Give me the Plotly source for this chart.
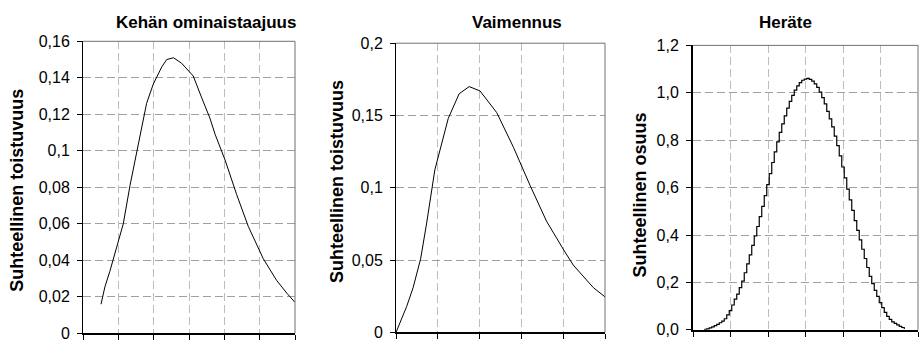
import plotly.graph_objects as go

# ---------------- data ----------------
# Panel 1: Kehän ominaistaajuus
p1_x = [0.51, 0.62, 0.76, 1.0, 1.14, 1.33, 1.61, 1.80, 1.99, 2.23, 2.37, 2.56, 2.79,
        3.12, 3.36, 3.59, 3.74, 4.02, 4.35, 4.68, 5.10, 5.48, 5.77, 6.0]
p1_y = [0.016, 0.0255, 0.034, 0.050, 0.060, 0.081, 0.107, 0.126, 0.1366, 0.146, 0.150,
        0.151, 0.148, 0.141, 0.129, 0.118, 0.109, 0.095, 0.076, 0.0585, 0.041, 0.029,
        0.022, 0.017]
p1_tickvals = [0, 0.02, 0.04, 0.06, 0.08, 0.1, 0.12, 0.14, 0.16]
p1_ticktext = ["0", "0,02", "0,04", "0,06", "0,08", "0,1", "0,12", "0,14", "0,16"]

# Panel 2: Vaimennus
p2_x = [0, 0.096, 0.256, 0.41, 0.59, 0.73, 0.93, 1.25, 1.51, 1.75, 2.01, 2.41, 2.81,
        3.21, 3.60, 4.0, 4.24, 4.72, 5.0]
p2_y = [0, 0.007, 0.018, 0.031, 0.051, 0.075, 0.1125, 0.148, 0.165, 0.170, 0.167,
        0.152, 0.128, 0.1015, 0.077, 0.0576, 0.0466, 0.031, 0.0246]
p2_tickvals = [0, 0.05, 0.1, 0.15, 0.2]
p2_ticktext = ["0", "0,05", "0,1", "0,15", "0,2"]

# Panel 3: Heräte (stepped distribution), first bin at 0.30, bin width 1/15
p3_start = 0.30
p3_bin = 1.0 / 15.0
p3_y = [0.002, 0.004, 0.008, 0.013, 0.018, 0.023, 0.030, 0.037, 0.047, 0.063,
        0.081, 0.105, 0.130, 0.151, 0.178, 0.206, 0.241, 0.278, 0.316, 0.356,
        0.396, 0.436, 0.478, 0.521, 0.566, 0.613, 0.659, 0.706, 0.751, 0.793,
        0.833, 0.869, 0.903, 0.935, 0.964, 0.989, 1.011, 1.029, 1.043, 1.053,
        1.058, 1.061, 1.057, 1.049, 1.038, 1.023, 1.003, 0.980, 0.953, 0.922,
        0.890, 0.856, 0.817, 0.777, 0.734, 0.687, 0.641, 0.594, 0.548, 0.504,
        0.461, 0.420, 0.380, 0.340, 0.301, 0.263, 0.226, 0.195, 0.167, 0.141,
        0.115, 0.094, 0.074, 0.057, 0.044, 0.034, 0.027, 0.021, 0.015, 0.010,
        0.004]
p3_x = [p3_start + i * p3_bin for i in range(len(p3_y))]
p3_tickvals = [0, 0.2, 0.4, 0.6, 0.8, 1.0, 1.2]
p3_ticktext = ["0,0", "0,2", "0,4", "0,6", "0,8", "1,0", "1,2"]

titles = ["Kehän ominaistaajuus", "Vaimennus", "Heräte"]
ytitles = ["Suhteellinen toistuvuus", "Suhteellinen toistuvuus", "Suhteellinen osuus"]

# ---------------- figure ----------------
W, H = 921, 350
FONT = "Liberation Sans, Arial, sans-serif"

fig = go.Figure()
fig.add_trace(go.Scatter(x=p1_x, y=p1_y, mode="lines", line=dict(color="black", width=1),
                         xaxis="x", yaxis="y", showlegend=False))
fig.add_trace(go.Scatter(x=p2_x, y=p2_y, mode="lines", line=dict(color="black", width=1),
                         xaxis="x2", yaxis="y2", showlegend=False))
fig.add_trace(go.Scatter(x=p3_x, y=p3_y, mode="lines", line=dict(color="black", width=1.2, shape="hv"),
                         xaxis="x3", yaxis="y3", showlegend=False))


def px_x(p):
    return p / W


def px_y(p):
    return 1 - p / H


panels = [
    # left, right, top, bottom (pixels), xmax, ymax, tickvals, ticktext, left axis width
    (83, 295, 35, 342, 6, 0.16, p1_tickvals, p1_ticktext, 1),
    (396, 605, 37, 341, 5, 0.2, p2_tickvals, p2_ticktext, 1),
    (693, 918, 39.3, 338.3, 6, 1.2, p3_tickvals, p3_ticktext, 2),
]

layout = dict(
    width=W, height=H, margin=dict(l=0, r=0, t=0, b=0),
    paper_bgcolor="white", plot_bgcolor="white",
    font=dict(family=FONT, color="black"),
    showlegend=False,
)

shapes = []
for i, (l, r, t, b, xmax, ymax, tv, tt, lw) in enumerate(panels):
    sfx = "" if i == 0 else str(i + 1)
    layout["xaxis" + sfx] = dict(
        domain=[px_x(l), px_x(r)], anchor="y" + sfx, range=[0, xmax],
        tickmode="linear", tick0=0, dtick=1, showticklabels=False,
        ticks="outside", ticklen=5, tickcolor="black", tickwidth=1,
        showline=True, linecolor="black", linewidth=2,
        showgrid=True, gridcolor="#bdbdbd", gridwidth=1, griddash="8px,4px",
        zeroline=False, fixedrange=True,
    )
    layout["yaxis" + sfx] = dict(
        domain=[px_y(b), px_y(t)], anchor="x" + sfx, range=[0, ymax],
        tickmode="array", tickvals=tv, ticktext=tt,
        tickfont=dict(size=16, family=FONT, color="black"),
        ticks="outside", ticklen=5, tickcolor="black", tickwidth=1,
        ticklabelstandoff=4,
        showline=True, linecolor="black", linewidth=lw,
        showgrid=True, gridcolor="#a0a0a0", gridwidth=1, griddash="8px,4px",
        zeroline=False, fixedrange=True,
    )
    xr = "x" + sfx + " domain"
    yr = "y" + sfx + " domain"
    shapes.append(dict(type="line", xref=xr, yref=yr, x0=0, x1=1, y0=1, y1=1,
                       line=dict(color="#707070", width=1)))
    shapes.append(dict(type="line", xref=xr, yref=yr, x0=1, x1=1, y0=0, y1=1,
                       line=dict(color="#707070", width=1)))

layout["shapes"] = shapes

annotations = []
title_pos = [(206, 15), (517, 15), (785, 15)]
ytitle_pos = [(17, 192), (337, 183), (640, 197)]
for i in range(3):
    tx, ty = title_pos[i]
    annotations.append(dict(text="<b>" + titles[i] + "</b>", xref="paper", yref="paper",
                            x=px_x(tx), y=px_y(ty), xanchor="center", yanchor="middle",
                            showarrow=False, font=dict(size=17, family=FONT, color="black")))
    ax, ay = ytitle_pos[i]
    annotations.append(dict(text="<b>" + ytitles[i] + "</b>", xref="paper", yref="paper",
                            x=px_x(ax), y=px_y(ay), xanchor="center", yanchor="middle",
                            textangle=-90, showarrow=False,
                            font=dict(size=18, family=FONT, color="black")))
layout["annotations"] = annotations

fig.update_layout(**layout)
fig.write_html("out.html",
               post_script="document.body.style.margin='0';document.body.style.overflow='hidden';")
